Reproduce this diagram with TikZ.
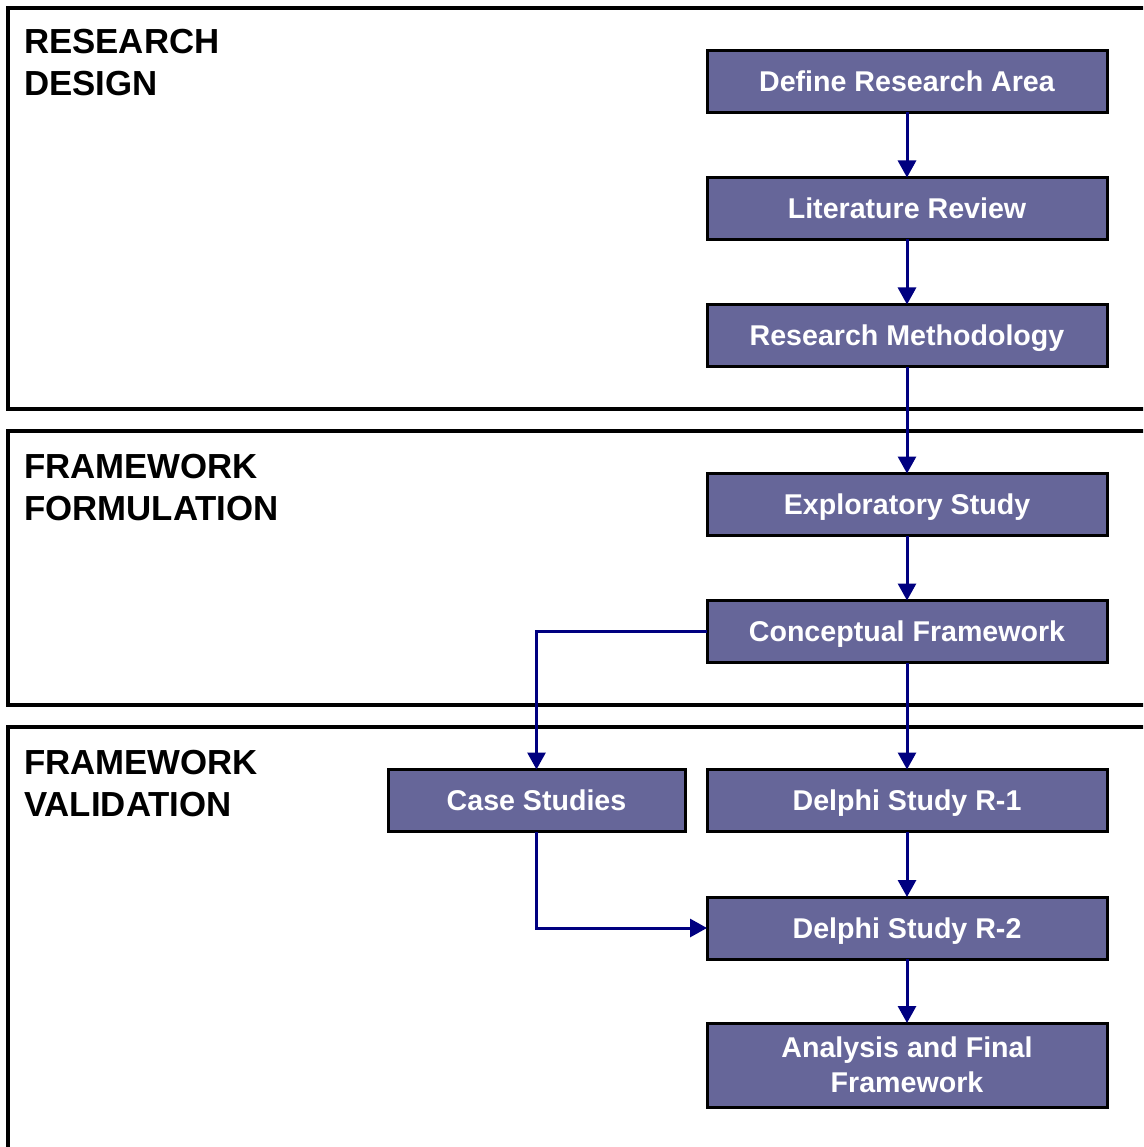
\documentclass[tikz,border=0pt]{standalone}
\usepackage{fontspec}
\setmainfont{Liberation Sans}
\usetikzlibrary{arrows.meta}
\definecolor{stepfill}{RGB}{102,102,153}
\definecolor{flownavy}{RGB}{0,0,128}
\begin{document}
\begin{tikzpicture}[x=1pt,y=-1pt,
  panel/.style={draw=black,line width=4.5pt},
  paneltitle/.style={anchor=base west,align=left,inner sep=0pt,
    font=\fontsize{34.8}{42}\selectfont\bfseries},
  stepbox/.style={draw=black,line width=3pt,fill=stepfill,text=white,
    minimum width=400pt,minimum height=62pt,inner sep=0pt,outer sep=0pt,
    text height=20.5pt,text depth=0pt,
    align=center,font=\fontsize{28.6}{35}\selectfont\bfseries},
  flow/.style={draw=flownavy,line width=3pt,
    -{Triangle[length=17pt,width=18pt]}}
]
\useasboundingbox (0,0) rectangle (1143,1147);
\clip (0,0) rectangle (1143,1147);

% phase panels (open to the right and bottom)
\draw[panel] (8,8) rectangle (1170,409);
\draw[panel] (8,431) rectangle (1170,705);
\draw[panel] (8,727) rectangle (1170,1180);

\node[paneltitle] (t1) at (24,96) {RESEARCH\\DESIGN};
\node[paneltitle] (t2) at (24,520) {FRAMEWORK\\FORMULATION};
\node[paneltitle] (t3) at (24,816) {FRAMEWORK\\VALIDATION};

% process steps
\node[stepbox] (define) at (907,81.5) {Define Research Area};
\node[stepbox] (lit) at (907,208.5) {Literature Review};
\node[stepbox] (meth) at (907,335.5) {Research Methodology};
\node[stepbox] (expl) at (907,504.5) {Exploratory Study};
\node[stepbox] (concept) at (907,631.5) {Conceptual Framework};
\node[stepbox] (r1) at (907,800.5) {Delphi Study R-1};
\node[stepbox] (r2) at (907,928) {Delphi Study R-2};
\node[stepbox,minimum height=84pt,text height=55.5pt] (final) at (907,1065) {Analysis and Final\\Framework};
\node[stepbox,minimum width=297pt] (case) at (536.5,800.5) {Case Studies};

% connectors
\draw[flow] (define) -- (lit);
\draw[flow] (lit) -- (meth);
\draw[flow] (meth) -- (expl);
\draw[flow] (expl) -- (concept);
\draw[flow] (concept) -- (r1);
\draw[flow] (r1) -- (r2);
\draw[flow] (r2) -- (final);
\draw[flow] (concept.west) -| (case.north);
\draw[flow] (case.south) |- (r2.west);
\end{tikzpicture}
\end{document}
